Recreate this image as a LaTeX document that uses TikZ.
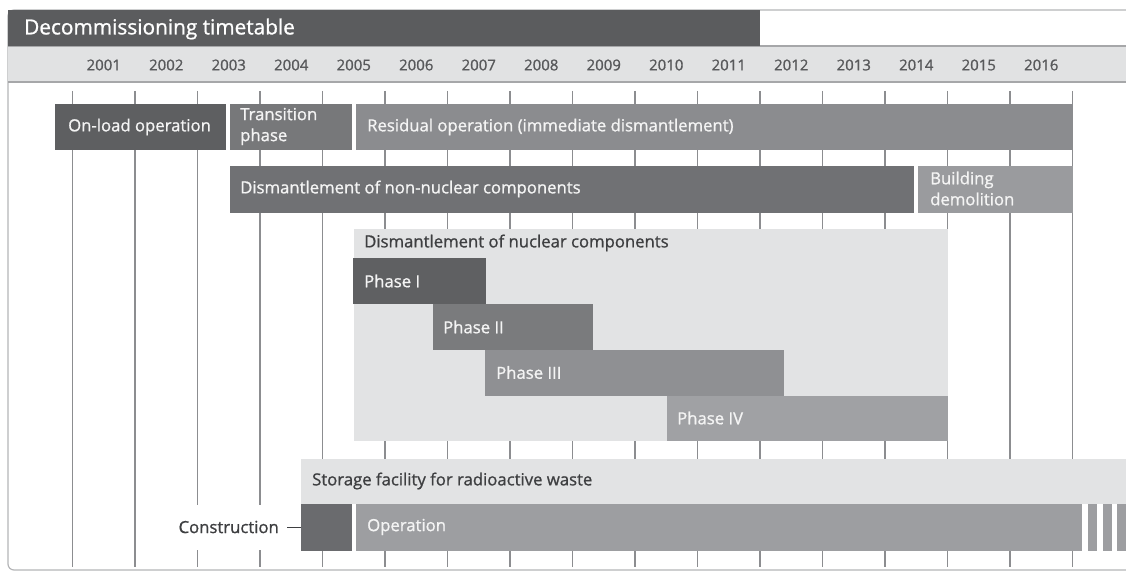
\documentclass[tikz,border=0pt]{standalone}
\usepackage{fontspec}
\setmainfont{Open Sans}[FakeBold=1.0]
\definecolor{titlebar}{HTML}{5B5C5E}
\definecolor{band}{HTML}{E1E2E3}
\definecolor{bandline}{HTML}{A6A7A9}
\definecolor{gridc}{HTML}{8C8D90}
\definecolor{frame}{HTML}{B4B5B7}
\definecolor{onload}{HTML}{5E5F61}
\definecolor{transit}{HTML}{77787A}
\definecolor{residual}{HTML}{8B8C8F}
\definecolor{nonnuc}{HTML}{707174}
\definecolor{demol}{HTML}{9A9B9E}
\definecolor{lightbox}{HTML}{E2E3E4}
\definecolor{phA}{HTML}{5F6062}
\definecolor{phB}{HTML}{7A7B7D}
\definecolor{phC}{HTML}{8F9093}
\definecolor{phD}{HTML}{A0A1A4}
\definecolor{constr}{HTML}{6A6B6E}
\definecolor{operc}{HTML}{9D9EA1}
\definecolor{wtext}{HTML}{F4F4F4}
\definecolor{dtext}{HTML}{3E3F41}
\definecolor{ytext}{HTML}{58595B}
\tikzset{
  barbox/.style={draw=none,inner sep=0pt,outer sep=0pt,anchor=north west},
  wlabel/.style={anchor=west,inner sep=0pt,text=wtext,font=\fontsize{16.7}{21}\selectfont,align=left},
  dlabel/.style={anchor=west,inner sep=0pt,text=dtext,font=\fontsize{16.7}{21}\selectfont,align=left},
  yearlabel/.style={inner sep=0pt,text=ytext,font=\fontsize{15}{17}\selectfont},
  gridline/.style={draw=gridc,line width=1.3pt},
}
\newcommand\gbar[6]{\node[barbox,fill=#6,minimum width={#4-#2},minimum height={#5-#3}] (#1) at (#2,#3) {};}
\begin{document}
\begin{tikzpicture}[x=1pt,y=-1pt]
\useasboundingbox (0,0) rectangle (1126,572);
% frame
\draw[frame,line width=1.2pt,rounded corners=6pt] (8,10) rectangle (1160,570);
% year band
\fill[band] (8,46) rectangle (1160,82);
\draw[bandline,line width=1.5pt] (8,46) -- (1160,46);
\draw[bandline,line width=1.5pt] (8,82) -- (1160,82);
% title bar
\fill[titlebar] (8,10) rectangle (760,46);
\node[anchor=west,inner sep=0pt,text=white,font=\fontsize{20.8}{24}\selectfont] (title) at (24,29) {Decommissioning timetable};
% years
\foreach \k [evaluate=\k as \yr using int(2001+\k)] in {0,...,15}{
  \node[yearlabel] (y\yr) at ({103.75+62.5*\k},65) {\yr};
}
% grid lines
\foreach \k in {0,...,16}{
  \draw[gridline] ({72.5+62.5*\k},91) -- ({72.5+62.5*\k},567);
}
% row 1
\gbar{onload}{55}{104}{226}{150}{onload}
\gbar{transition}{230}{104}{352}{150}{transit}
\gbar{residual}{356}{104}{1073}{150}{residual}
\node[wlabel] (lonload) at (68,127) {On-load operation};
\node[wlabel] (ltransition) at (240,126.5) {Transition\\phase};
\node[wlabel] (lresidual) at (367,127) {Residual operation (immediate dismantlement)};
% row 2
\gbar{nonnuclear}{230}{166}{914}{212.5}{nonnuc}
\gbar{demolition}{918}{166}{1073}{212.5}{demol}
\node[wlabel] (lnonnuclear) at (240,189) {Dismantlement of non-nuclear components};
\node[wlabel] (ldemolition) at (930,188.5) {Building\\demolition};
% nuclear block
\gbar{nuclear}{354}{229}{948}{441}{lightbox}
\node[dlabel] (lnuclear) at (364,243) {Dismantlement of nuclear components};
\gbar{phase1}{353}{258}{486}{304}{phA}
\gbar{phase2}{433}{304}{593}{350}{phB}
\gbar{phase3}{485}{349.5}{784}{395.5}{phC}
\gbar{phase4}{666.5}{395.5}{948}{441}{phD}
\node[wlabel] (lphase1) at (364,281) {Phase I};
\node[wlabel] (lphase2) at (443,327) {Phase II};
\node[wlabel] (lphase3) at (496,372.5) {Phase III};
\node[wlabel] (lphase4) at (677,418) {Phase IV};
% storage
\gbar{storage}{301}{458.5}{1160}{503.5}{lightbox}
\node[dlabel] (lstorage) at (312,481) {Storage facility for radioactive waste};
\gbar{construction}{301}{503.5}{352}{550.5}{constr}
\gbar{operation}{356}{503.5}{1082}{550.5}{operc}
\gbar{stripeA}{1088}{503.5}{1097}{550.5}{operc}
\gbar{stripeB}{1102.5}{503.5}{1112}{550.5}{operc}
\gbar{stripeC}{1117}{503.5}{1160}{550.5}{operc}
\node[wlabel] (loperation) at (367,527) {Operation};
\node[anchor=east,fill=white,inner xsep=4pt,inner ysep=0pt,minimum height=45pt,text=dtext,font=\fontsize{16.7}{21}\selectfont] (lconstruction) at (283,527) {Construction};
\coordinate (ctick) at (287,527);
\draw[dtext,line width=1pt] (ctick) -- (construction.west |- ctick);
\end{tikzpicture}
\end{document}
